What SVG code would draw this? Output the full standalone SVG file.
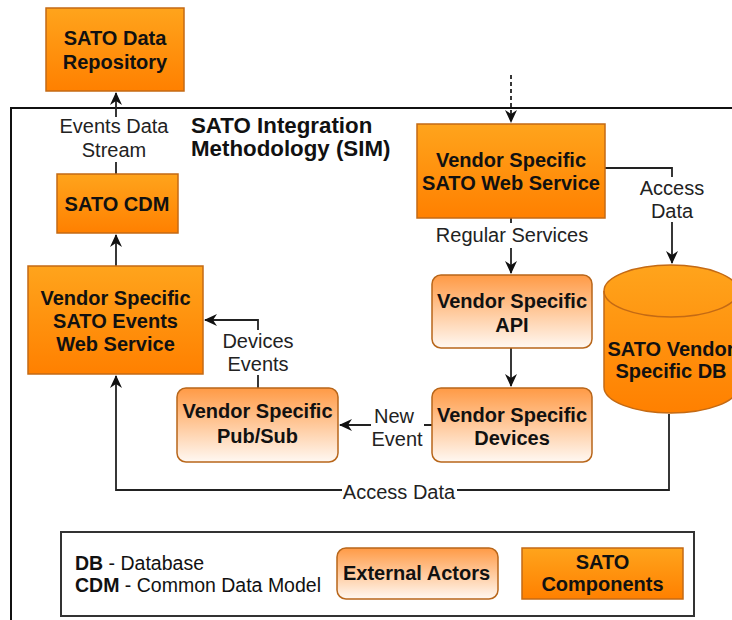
<svg xmlns="http://www.w3.org/2000/svg" width="732" height="620" viewBox="0 0 732 620">
  <defs>
    <linearGradient id="gSato" x1="0" y1="0" x2="0" y2="1">
      <stop offset="0" stop-color="#ffa41c"/>
      <stop offset="1" stop-color="#ff8000"/>
    </linearGradient>
    <linearGradient id="gExt" x1="0" y1="0" x2="0" y2="1">
      <stop offset="0" stop-color="#ff9a45"/>
      <stop offset="1" stop-color="#fff8f2"/>
    </linearGradient>
    <marker id="arr" markerUnits="userSpaceOnUse" markerWidth="14" markerHeight="12" refX="12" refY="6" orient="auto">
      <path d="M0,0 L13,6 L0,12 L4,6 Z" fill="#111"/>
    </marker>
  </defs>
  <style>
    .sato { fill: url(#gSato); stroke: #c46a14; stroke-width: 1.5; }
    .ext { fill: url(#gExt); stroke: #b8661a; stroke-width: 1.5; }
    .node { font-family: "Liberation Sans", Arial, sans-serif; font-weight: bold; font-size: 20px; fill: #111; text-anchor: middle; }
    .lbl { font-family: "Liberation Sans", Arial, sans-serif; font-size: 20px; fill: #222; text-anchor: middle; }
    .legend { font-family: "Liberation Sans", Arial, sans-serif; font-size: 19.5px; fill: #111; }
    .conn { fill: none; stroke: #222; stroke-width: 1.8; }
    .gap { fill: #fff; stroke: none; }
  </style>

  <rect width="732" height="620" fill="#fff"/>

  <!-- SIM boundary frame (runs off the right and bottom edges) -->
  <g id="sim-frame">
    <rect x="11" y="108" width="800" height="600" fill="none" stroke="#111" stroke-width="2"/>
    <text x="191" y="133" font-family="Liberation Sans, Arial, sans-serif" font-weight="bold" font-size="22.3px" fill="#111">SATO Integration</text>
    <text x="191" y="156" font-family="Liberation Sans, Arial, sans-serif" font-weight="bold" font-size="22.3px" fill="#111">Methodology (SIM)</text>
  </g>

  <!-- Connectors -->
  <g id="connectors">
    <!-- CDM to data repository -->
    <path class="conn" d="M116,174 V93" marker-end="url(#arr)"/>
    <rect class="gap" x="54" y="117" width="122" height="45"/>
    <text class="lbl" x="114" y="133">Events Data</text>
    <text class="lbl" x="114" y="157">Stream</text>

    <!-- Events web service to CDM -->
    <path class="conn" d="M116,266 V235" marker-end="url(#arr)"/>

    <!-- external entry into the vendor web service -->
    <path class="conn" d="M511,75 V122" stroke-dasharray="4,3" marker-end="url(#arr)"/>

    <!-- web service to DB -->
    <path class="conn" d="M605,168 H672 V263" marker-end="url(#arr)"/>
    <rect class="gap" x="634" y="177" width="76" height="45"/>
    <text class="lbl" x="672" y="195">Access</text>
    <text class="lbl" x="672" y="218">Data</text>

    <!-- web service to API -->
    <path class="conn" d="M511,218 V273" marker-end="url(#arr)"/>
    <rect class="gap" x="432" y="223" width="160" height="25"/>
    <text class="lbl" x="512" y="242">Regular Services</text>

    <!-- API to devices -->
    <path class="conn" d="M511,348 V386" marker-end="url(#arr)"/>

    <!-- devices to pub/sub -->
    <path class="conn" d="M432,425 H340" marker-end="url(#arr)"/>
    <rect class="gap" x="371" y="405" width="53" height="44"/>
    <text class="lbl" x="394" y="423">New</text>
    <text class="lbl" x="397" y="446">Event</text>

    <!-- pub/sub to events web service -->
    <path class="conn" d="M258,388 V320 H205" marker-end="url(#arr)"/>
    <rect class="gap" x="216" y="330" width="84" height="45"/>
    <text class="lbl" x="258" y="348">Devices</text>
    <text class="lbl" x="258" y="371">Events</text>

    <!-- DB back to events web service -->
    <path class="conn" d="M669,414 V490 H116 V376" marker-end="url(#arr)"/>
    <rect class="gap" x="342" y="482" width="115" height="20"/>
    <text class="lbl" x="399" y="499">Access Data</text>
  </g>

  <!-- Nodes -->
  <g id="sato-data-repository">
    <rect class="sato" x="46" y="8" width="138" height="83"/>
    <text class="node" x="115" y="45">SATO Data</text>
    <text class="node" x="115" y="69">Repository</text>
  </g>

  <g id="sato-cdm">
    <rect class="sato" x="57" y="174" width="121" height="59"/>
    <text class="node" x="117" y="211">SATO CDM</text>
  </g>

  <g id="events-web-service">
    <rect class="sato" x="28" y="266" width="175" height="108"/>
    <text class="node" x="115.5" y="305">Vendor Specific</text>
    <text class="node" x="115.5" y="328">SATO Events</text>
    <text class="node" x="115.5" y="351">Web Service</text>
  </g>

  <g id="vendor-web-service">
    <rect class="sato" x="417" y="124" width="188" height="94"/>
    <text class="node" x="511" y="167">Vendor Specific</text>
    <text class="node" x="511" y="190">SATO Web Service</text>
  </g>

  <g id="vendor-api">
    <rect class="ext" x="432" y="275" width="160" height="73" rx="9"/>
    <text class="node" x="512" y="308">Vendor Specific</text>
    <text class="node" x="512" y="332">API</text>
  </g>

  <g id="vendor-devices">
    <rect class="ext" x="432" y="388" width="160" height="74" rx="9"/>
    <text class="node" x="512" y="422">Vendor Specific</text>
    <text class="node" x="512" y="445">Devices</text>
  </g>

  <g id="vendor-pubsub">
    <rect class="ext" x="177" y="388" width="161" height="74" rx="9"/>
    <text class="node" x="257.5" y="418">Vendor Specific</text>
    <text class="node" x="257.5" y="443">Pub/Sub</text>
  </g>

  <g id="vendor-db">
    <path class="sato" d="M604,291 A67,26 0 0 1 738,291 V387 A67,26 0 0 1 604,387 Z"/>
    <path d="M604,291 A67,26 0 0 0 738,291" fill="none" stroke="#c46a14" stroke-width="1.5"/>
    <text class="node" x="671" y="356">SATO Vendor</text>
    <text class="node" x="671" y="378">Specific DB</text>
  </g>

  <!-- Legend -->
  <g id="legend">
    <rect x="61" y="532" width="633" height="84" fill="#fff" stroke="#333" stroke-width="2"/>
    <text class="legend" x="75" y="570"><tspan font-weight="bold">DB</tspan> - Database</text>
    <text class="legend" x="75" y="592"><tspan font-weight="bold">CDM</tspan> - Common Data Model</text>
    <rect class="ext" x="337" y="548" width="161" height="51" rx="9"/>
    <text class="node" x="416.5" y="580" font-size="18.8px">External Actors</text>
    <rect class="sato" x="522" y="548" width="161" height="51"/>
    <text class="node" x="602.5" y="569" font-size="18.6px">SATO</text>
    <text class="node" x="602.5" y="591" font-size="18.6px">Components</text>
  </g>
</svg>
